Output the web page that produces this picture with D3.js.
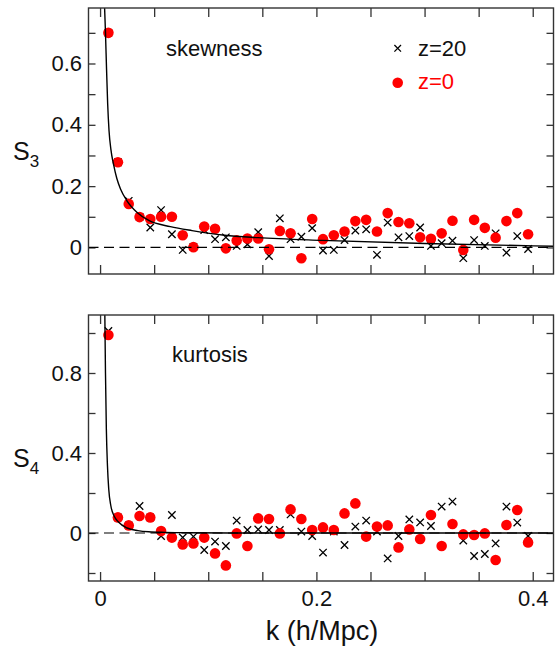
<!DOCTYPE HTML>
<html>
  <head>
    <style>
      body { margin: 0; background: white; }
      svg { font-family: "Liberation Sans", Arial, sans-serif; }
      .frame { fill: none; stroke: #333; stroke-width: 1.4px; }
      .tick line { stroke: #333; stroke-width: 1.3px; }
      .tick text { font-size: 22px; fill: #111; }
    </style>
    <script type="text/javascript" src="https://cdnjs.cloudflare.com/ajax/libs/d3/7.8.5/d3.min.js"></script>
  </head>
  <body>
    <div id="chart"></div>
    <script type="text/javascript">

// wavenumber bins, shared by both panels
var kBins = [0.0077, 0.0165, 0.0265, 0.0365, 0.0464, 0.0564, 0.0664, 0.0764, 0.0863, 0.0963,
             0.1063, 0.1163, 0.1263, 0.1362, 0.1462, 0.1562, 0.1662, 0.1761, 0.1861, 0.1961,
             0.2061, 0.2161, 0.2260, 0.2360, 0.2460, 0.2560, 0.2659, 0.2759, 0.2859, 0.2959,
             0.3059, 0.3158, 0.3258, 0.3358, 0.3458, 0.3557, 0.3657, 0.3757, 0.3857, 0.3957];

// skewness
var s3z0 = [0.70, 0.278, 0.142, 0.099, 0.093, 0.100, 0.100, 0.040, 0.001, 0.068,
            0.061, -0.003, 0.023, 0.029, 0.029, -0.006, 0.054, 0.046, -0.035, 0.093,
            0.027, 0.040, 0.052, 0.086, 0.090, 0.052, 0.112, 0.083, 0.079, 0.033,
            0.028, 0.046, 0.087, -0.008, 0.090, 0.064, 0.032, 0.086, 0.112, 0.043];
var s3z20 = [0.70, 0.278, 0.152, 0.100, 0.065, 0.122, 0.043, -0.008, 0.002, 0.057,
             0.027, 0.033, 0.005, 0.010, 0.050, -0.028, 0.095, 0.027, 0.035, 0.063,
             -0.010, -0.008, 0.024, 0.055, 0.059, -0.024, 0.081, 0.033, 0.037, 0.065,
             0.005, 0.014, 0.022, -0.035, 0.024, 0.005, 0.046, -0.017, 0.037, -0.005];
var s3CurveK = [0.0040, 0.0050, 0.0060, 0.0070, 0.0083, 0.0100, 0.0125, 0.0155, 0.0190, 0.0247,
                0.034, 0.045, 0.065, 0.085, 0.115, 0.146, 0.205, 0.30, 0.419];
var s3Curve = [0.80, 0.70, 0.58, 0.47, 0.38, 0.32, 0.27, 0.225, 0.19, 0.153,
               0.115, 0.088, 0.068, 0.055, 0.040, 0.032, 0.023, 0.013, 0.004];

// kurtosis
var s4z0 = [0.99, 0.078, 0.038, 0.085, 0.078, 0.010, -0.023, -0.057, -0.052, -0.023,
            -0.102, -0.162, -0.002, -0.065, 0.073, 0.070, -0.002, 0.118, 0.070, 0.015,
            0.028, 0.015, 0.098, 0.148, -0.018, 0.032, 0.038, -0.072, 0.018, -0.030,
            0.090, -0.065, 0.045, -0.007, -0.010, -0.002, -0.135, 0.040, 0.115, -0.047];
var s4z20 = [1.01, 0.078, 0.038, 0.135, 0.078, -0.015, 0.090, -0.022, -0.018, -0.085,
             -0.043, -0.065, 0.062, 0.015, 0.018, 0.015, 0.015, 0.093, 0.007, -0.015,
             -0.098, 0.007, -0.060, 0.032, 0.062, 0.007, -0.127, -0.015, 0.068, 0.053,
             0.035, 0.132, 0.157, -0.038, -0.115, -0.105, -0.052, 0.132, 0.052, -0.015];
var s4CurveK = [0.0044, 0.0050, 0.0058, 0.0068, 0.0080, 0.0100, 0.0130, 0.0170, 0.0250, 0.0350,
                0.0450, 0.0600, 0.0800, 0.1200, 0.4190];
var s4Curve = [1.09, 0.80, 0.52, 0.34, 0.22, 0.135, 0.085, 0.055, 0.025, 0.012,
               0.006, 0.003, 0.001, 0.0, 0.0];

var xTicks = [0, 0.05, 0.1, 0.15, 0.2, 0.25, 0.3, 0.35, 0.4];
var xLabels = [0, 0.2, 0.4];
var s3Ticks = [0, 0.1, 0.2, 0.3, 0.4, 0.5, 0.6, 0.7];
var s3Labels = [0, 0.2, 0.4, 0.6];
var s4Ticks = [-0.2, 0, 0.2, 0.4, 0.6, 0.8, 1.0];
var s4Labels = [0, 0.4, 0.8];

const width = 558, height = 652;
const left = 88.5, right = 553.5;

var svg = d3.select("#chart").append("svg")
    .attr("width", width)
    .attr("height", height);

var x = d3.scaleLinear().domain([-0.0107, 0.4192]).range([left, right]);

function fmt(labels) {
  return function(d) {
    if (labels.indexOf(d) < 0) return "";
    return d === 0 ? "0" : d3.format(".1f")(d);
  };
}

function panel(opts) {
  var y = d3.scaleLinear().domain(opts.yDomain).range([opts.bottom, opts.top]);
  var g = svg.append("g");
  var clipId = "clip" + opts.name;

  svg.append("clipPath").attr("id", clipId)
    .append("rect")
      .attr("x", left).attr("y", opts.top)
      .attr("width", right - left).attr("height", opts.bottom - opts.top);

  // inward ticks on all four sides
  g.append("g").attr("transform", "translate(0," + opts.bottom + ")")
      .call(d3.axisBottom(x).tickValues(xTicks).tickSize(-9).tickPadding(9)
        .tickFormat(opts.xlab ? fmt(xLabels) : ""))
      .call(a => a.select(".domain").remove());
  g.append("g").attr("transform", "translate(0," + opts.top + ")")
      .call(d3.axisTop(x).tickValues(xTicks).tickSize(-9).tickFormat(""))
      .call(a => a.select(".domain").remove());
  g.append("g").attr("transform", "translate(" + left + ",0)")
      .call(d3.axisLeft(y).tickValues(opts.yTicks).tickSize(-7).tickPadding(6.5)
        .tickFormat(fmt(opts.yLabels)))
      .call(a => a.select(".domain").remove());
  g.append("g").attr("transform", "translate(" + right + ",0)")
      .call(d3.axisRight(y).tickValues(opts.yTicks).tickSize(-7).tickFormat(""))
      .call(a => a.select(".domain").remove());
  g.selectAll(".tick text").attr("font-family", null).attr("font-size", null);

  var data = kBins.map(function(k, i) { return {k: k, a: opts.z20[i], b: opts.z0[i]}; });
  var marks = g.append("g").attr("clip-path", "url(#" + clipId + ")");

  // z=20 crosses
  marks.selectAll("path.cross")
    .data(data)
    .join("path")
      .attr("class", "cross")
      .attr("transform", d => "translate(" + x(d.k) + "," + y(d.a) + ")")
      .attr("d", "M-3.7,-3.7L3.7,3.7M-3.7,3.7L3.7,-3.7")
      .attr("stroke", "black")
      .attr("stroke-width", 1.3)
      .attr("fill", "none");

  // z=0 dots
  marks.selectAll("circle")
    .data(data)
    .join("circle")
      .attr("cx", d => x(d.k))
      .attr("cy", d => y(d.b))
      .attr("r", 5.3)
      .attr("fill", "red");

  // zero line
  marks.append("line")
      .attr("x1", left).attr("x2", right)
      .attr("y1", y(0)).attr("y2", y(0))
      .attr("stroke", "black")
      .attr("stroke-width", 1.2)
      .attr("stroke-dasharray", "10,5.5");

  // fit curve
  var line = d3.line()
      .x(d => x(d[0]))
      .y(d => y(d[1]))
      .curve(d3.curveMonotoneX);
  marks.append("path")
      .datum(d3.zip(opts.curveK, opts.curve))
      .attr("d", line)
      .attr("fill", "none")
      .attr("stroke", "black")
      .attr("stroke-width", 1.4);

  g.append("rect").attr("class", "frame")
      .attr("x", left).attr("y", opts.top)
      .attr("width", right - left).attr("height", opts.bottom - opts.top);

  // S_n label
  var lab = g.append("text")
      .attr("x", 13)
      .attr("y", opts.labelY)
      .attr("font-size", 25)
      .attr("fill", "#111");
  lab.append("tspan").text("S");
  lab.append("tspan").attr("font-size", 17).attr("dy", 7).text(opts.sub);

  g.append("text")
      .attr("x", opts.titleX)
      .attr("y", opts.titleY)
      .attr("font-size", 22)
      .attr("fill", "#111")
      .text(opts.title);

  return y;
}

panel({name: "s3", top: 8, bottom: 274, yDomain: [-0.0866, 0.781],
       yTicks: s3Ticks, yLabels: s3Labels, z0: s3z0, z20: s3z20,
       curveK: s3CurveK, curve: s3Curve, xlab: false,
       sub: "3", labelY: 160, title: "skewness", titleX: 166, titleY: 56});

panel({name: "s4", top: 315, bottom: 581, yDomain: [-0.24, 1.09],
       yTicks: s4Ticks, yLabels: s4Labels, z0: s4z0, z20: s4z20,
       curveK: s4CurveK, curve: s4Curve, xlab: true,
       sub: "4", labelY: 467, title: "kurtosis", titleX: 172, titleY: 362});

// legend
var legend = svg.append("g").attr("font-size", 22);
legend.append("path")
    .attr("transform", "translate(397.7,48.3)")
    .attr("d", "M-3.3,-3.3L3.3,3.3M-3.3,3.3L3.3,-3.3")
    .attr("stroke", "black")
    .attr("stroke-width", 1.3);
legend.append("text").attr("x", 418).attr("y", 56).attr("fill", "#111").text("z=20");
legend.append("circle").attr("cx", 397.7).attr("cy", 82.7).attr("r", 5.3).attr("fill", "red");
legend.append("text").attr("x", 418).attr("y", 89).attr("fill", "red").text("z=0");

// x axis title
svg.append("text")
    .attr("x", 322)
    .attr("y", 640)
    .attr("text-anchor", "middle")
    .attr("font-size", 27)
    .attr("fill", "#111")
    .text("k (h/Mpc)");

    </script>
  </body>
</html>
